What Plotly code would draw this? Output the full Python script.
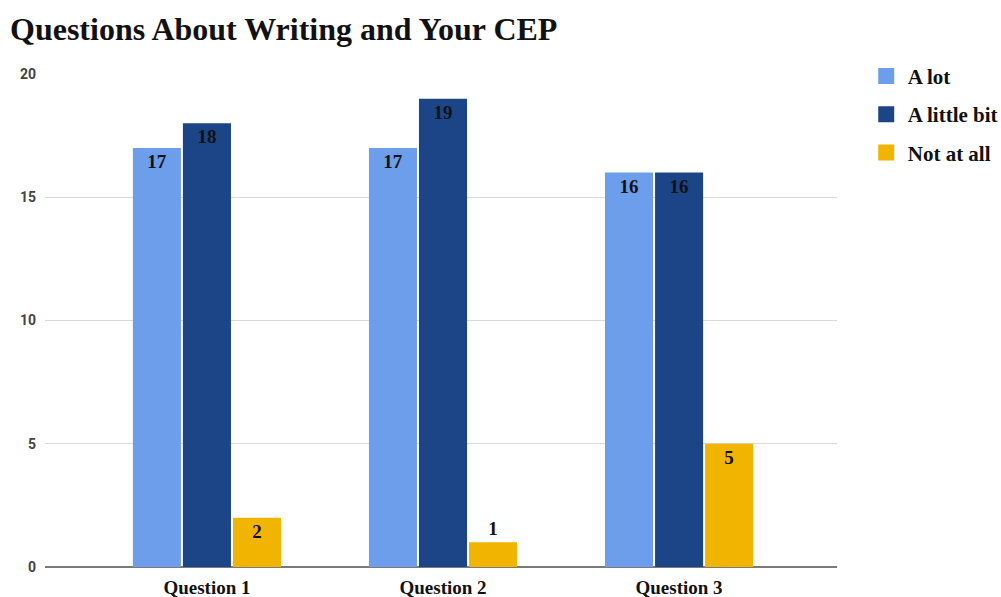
import plotly.graph_objects as go

categories = ["Question 1", "Question 2", "Question 3"]
a_lot = [17, 17, 16]
a_little_bit = [18, 19, 16]
not_at_all = [2, 1, 5]
series_names = ["A lot", "A little bit", "Not at all"]
colors = ["#6d9eeb", "#1c4587", "#f1b400"]

SERIF = "Liberation Serif"
fig = go.Figure()
for i, (name, vals, col) in enumerate(zip(series_names, [a_lot, a_little_bit, not_at_all], colors)):
    fig.add_trace(go.Bar(
        x=categories, y=vals, name=name, marker_color=col,
        marker_line_width=0,
        text=[str(v) for v in vals],
        texttemplate="<b>%{text}</b>",
        textposition=["inside" if v >= 2 else "outside" for v in vals],
        insidetextanchor="end", constraintext="none", textangle=0,
        textfont=dict(family=SERIF, size=19, color="#111111"),
        insidetextfont=dict(family=SERIF, size=19, color="#111111"),
        outsidetextfont=dict(family=SERIF, size=19, color="#111111"),
        showlegend=False, cliponaxis=False,
    ))
    # legend entry with a larger square swatch
    fig.add_trace(go.Scatter(
        x=[None], y=[None], mode="markers", name=f"<b>{name}</b>",
        marker=dict(symbol="square", size=17, color=col),
        legendgroup=f"g{i}", showlegend=True,
    ))

fig.update_layout(
    width=1001, height=597,
    margin=dict(l=45, r=164, t=74, b=30, autoexpand=False),
    paper_bgcolor="white", plot_bgcolor="white",
    barmode="group", bargap=0.364, bargroupgap=0.04,
    title=dict(text="<b>Questions About Writing and Your CEP</b>",
               x=0.01, xanchor="left", y=0.952, yanchor="middle",
               font=dict(family=SERIF, size=32, color="#111111")),
    legend=dict(x=1.035, xanchor="left", y=1.037, yanchor="top",
                font=dict(family=SERIF, size=21, color="#111111"),
                traceorder="grouped", tracegroupgap=8, itemwidth=33,
                itemsizing="trace"),
    xaxis=dict(range=[-0.686, 2.669], showgrid=False, showline=False,
               tickfont=dict(family=SERIF, size=19, color="#111111"),
               ticks="", ticklabelstandoff=7, automargin=False,
               tickvals=categories, ticktext=[f"<b>{c}</b>" for c in categories]),
    yaxis=dict(range=[0, 20], showgrid=True, gridcolor="#d9d9d9",
               gridwidth=1, zeroline=True, zerolinecolor="#7a7a7a", zerolinewidth=2,
               tickfont=dict(family="Roboto", size=14, color="#444444"),
               ticks="", ticklabelstandoff=8, automargin=False,
               tickvals=[0, 5, 10, 15, 20],
               ticktext=["<b>0</b>", "<b>5</b>", "<b>10</b>", "<b>15</b>", "<b>20</b>"]),
)
fig.write_html("out.html")
